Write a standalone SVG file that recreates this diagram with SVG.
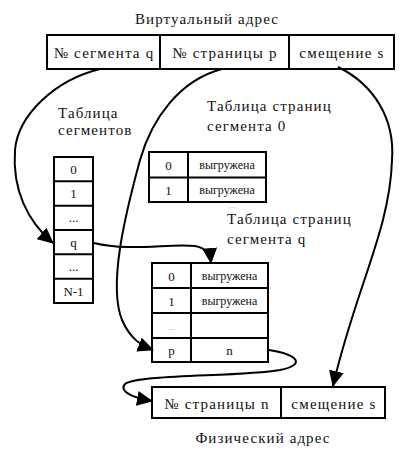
<svg xmlns="http://www.w3.org/2000/svg" width="420" height="456" viewBox="0 0 420 456">
<style>
text{font-family:'Liberation Serif','Times New Roman',serif;fill:#111}
.t{font-size:15px;letter-spacing:1.1px}
.b{font-size:15px;letter-spacing:1.2px;text-anchor:middle}
.c{font-size:13px;text-anchor:middle}
.s{font-size:12px;text-anchor:middle}
.box{fill:#fff;stroke:#000;stroke-width:2}
.ln{stroke:#000;stroke-width:2;fill:none}
.con{stroke:#000;stroke-width:2;fill:none;marker-end:url(#ah)}
</style>
<defs>
<marker id="ah" markerUnits="userSpaceOnUse" markerWidth="16" markerHeight="15" viewBox="0 0 16 15" refX="15" refY="7.5" orient="auto">
<path d="M0,0 L16,7.5 L0,15 Z" fill="#000"/>
</marker>
</defs>
<text x="207" y="24" class="t" text-anchor="middle">Виртуальный адрес</text>
<g id="virtual-address">
<rect class="box" x="47" y="35" width="347" height="34"/>
<line class="ln" x1="160" y1="35" x2="160" y2="69"/>
<line class="ln" x1="289" y1="35" x2="289" y2="69"/>
<text class="b" x="104" y="58">№ сегмента q</text>
<text class="b" x="225" y="58">№ страницы p</text>
<text class="b" x="342" y="58">смещение s</text>
</g>
<g id="segment-table">
<text class="t" x="58" y="118">Таблица</text>
<text class="t" x="58" y="135">сегментов</text>
<rect class="box" x="54" y="157" width="39" height="146"/>
<line class="ln" x1="54" y1="181.3" x2="93" y2="181.3"/>
<line class="ln" x1="54" y1="205.7" x2="93" y2="205.7"/>
<line class="ln" x1="54" y1="230" x2="93" y2="230"/>
<line class="ln" x1="54" y1="254.3" x2="93" y2="254.3"/>
<line class="ln" x1="54" y1="278.7" x2="93" y2="278.7"/>
<text class="c" x="73.5" y="174">0</text>
<text class="c" x="73.5" y="198">1</text>
<text class="c" x="73.5" y="222">...</text>
<text class="c" x="73.5" y="247">q</text>
<text class="c" x="73.5" y="271">...</text>
<text class="c" x="73.5" y="296">N-1</text>
</g>
<g id="page-table-0">
<text class="t" x="207" y="111">Таблица страниц</text>
<text class="t" x="207" y="131">сегмента 0</text>
<text x="232" y="208" font-size="9" style="fill:#bbb" text-anchor="middle">...</text>
<rect class="box" x="149" y="152" width="117" height="50"/>
<line class="ln" x1="188" y1="152" x2="188" y2="202"/>
<line class="ln" x1="149" y1="177.5" x2="266" y2="177.5"/>
<text class="c" x="168.5" y="170">0</text>
<text class="c" x="168.5" y="195">1</text>
<text class="s" x="227" y="169">выгружена</text>
<text class="s" x="227" y="194">выгружена</text>
</g>
<g id="page-table-q">
<text class="t" x="227" y="224">Таблица страниц</text>
<text class="t" x="227" y="244">сегмента q</text>
<rect class="box" x="152" y="263" width="116" height="99"/>
<line class="ln" x1="191" y1="263" x2="191" y2="362"/>
<line class="ln" x1="152" y1="288" x2="268" y2="288"/>
<line class="ln" x1="152" y1="313" x2="268" y2="313"/>
<line class="ln" x1="152" y1="338" x2="268" y2="338"/>
<text class="c" x="171.5" y="281">0</text>
<text class="c" x="171.5" y="306">1</text>
<text class="c" x="171.5" y="330" style="font-size:9px;fill:#888">...</text>
<text class="c" x="171.5" y="355">p</text>
<text class="s" x="229.5" y="280">выгружена</text>
<text class="s" x="229.5" y="305">выгружена</text>
<text class="c" x="229.5" y="355">n</text>
</g>
<g id="physical-address">
<rect class="box" x="152" y="387" width="233" height="31"/>
<line class="ln" x1="281" y1="387" x2="281" y2="418"/>
<text class="b" x="217" y="409">№ страницы n</text>
<text class="b" x="334" y="409">смещение s</text>
<text class="t" x="263" y="443" text-anchor="middle">Физический адрес</text>
</g>
<g id="connectors">
<path class="con" d="M100,69 C55,80 18,115 15,150 C12,190 28,222 53,243"/>
<path class="con" d="M222,69 C180,80 152,118 140,160 C125,215 108,285 122,320 C130,338 140,345 153,350"/>
<path class="con" d="M338,67 C375,85 395,120 392,160 C390,230 355,290 333,386"/>
<path class="con" d="M94,243 C130,252 170,243 195,246 C205,248 210,252 211,263"/>
<path class="con" d="M269,350 C300,355 305,365 280,370 C240,377 140,374 125,384 C118,392 135,398 152,401"/>
</g>
</svg>
